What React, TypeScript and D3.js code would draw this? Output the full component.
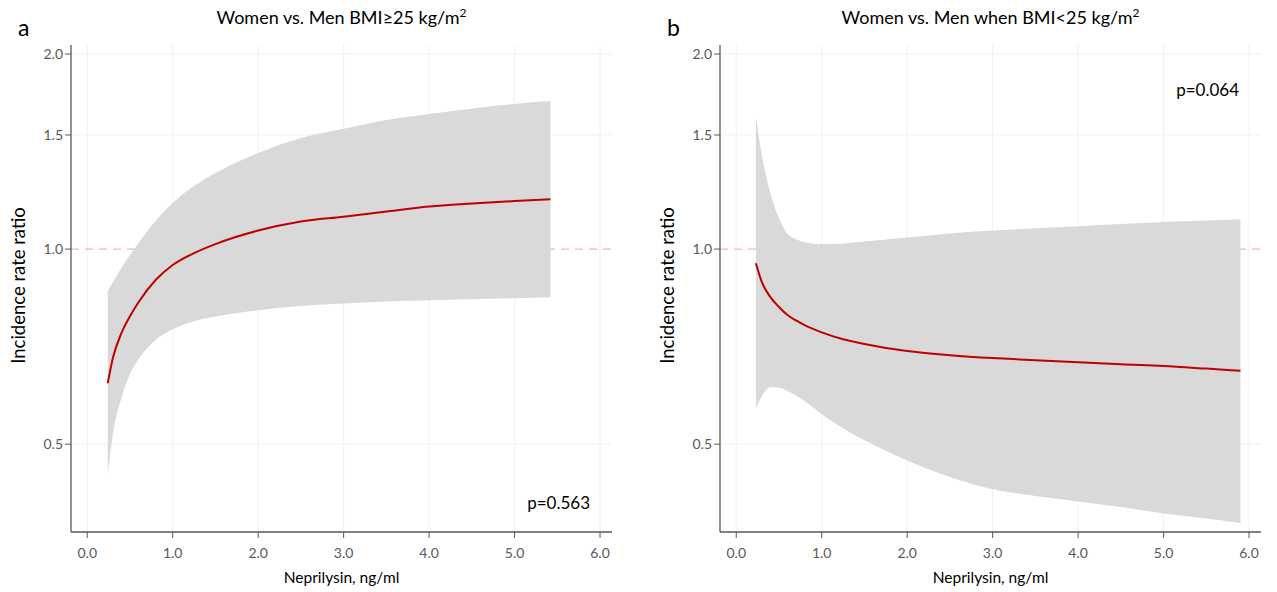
import React from "react";
import * as d3 from "d3";

// Panel a: Women vs. Men BMI>=25
const xA = [0.24, 0.3, 0.4, 0.5, 0.6, 0.8, 1.0, 1.25, 1.5, 2.0, 2.5, 3.0, 3.5, 4.0, 4.5, 5.0, 5.42];
const estA = [0.621, 0.679, 0.742, 0.788, 0.828, 0.896, 0.945, 0.986, 1.018, 1.068, 1.103, 1.122, 1.143, 1.163, 1.176, 1.186, 1.194];
const upA = [0.861, 0.889, 0.935, 0.979, 1.022, 1.106, 1.178, 1.251, 1.31, 1.407, 1.484, 1.534, 1.582, 1.616, 1.647, 1.675, 1.692];
const loA = [0.448, 0.518, 0.589, 0.641, 0.676, 0.724, 0.752, 0.774, 0.787, 0.805, 0.817, 0.824, 0.83, 0.834, 0.837, 0.84, 0.843];

// Panel b: Women vs. Men when BMI<25
const xB = [0.23, 0.3, 0.4, 0.5, 0.6, 0.7, 0.8, 1.0, 1.25, 1.5, 2.0, 2.5, 3.0, 3.5, 4.0, 4.5, 5.0, 5.5, 5.9];
const estB = [0.951, 0.889, 0.843, 0.814, 0.791, 0.776, 0.763, 0.744, 0.726, 0.714, 0.696, 0.686, 0.679, 0.674, 0.669, 0.664, 0.66, 0.654, 0.649];
const upB = [1.599, 1.397, 1.22, 1.116, 1.055, 1.036, 1.025, 1.018, 1.02, 1.027, 1.042, 1.057, 1.068, 1.077, 1.085, 1.093, 1.101, 1.107, 1.112];
const loB = [0.568, 0.593, 0.612, 0.611, 0.604, 0.594, 0.583, 0.556, 0.529, 0.507, 0.472, 0.445, 0.426, 0.416, 0.408, 0.4, 0.391, 0.384, 0.378];

const xTicks = [0, 1, 2, 3, 4, 5, 6];
const yTicks = [0.5, 1.0, 1.5, 2.0];
const titles = ["Women vs. Men BMI\u226525 kg/m", "Women vs. Men when BMI<25 kg/m"];
const titleSup = "2";
const labels = ["a", "b"];
const pValues = ["p=0.563", "p=0.064"];

const FONT = "Lato, 'Open Sans', sans-serif";

function Panel(props: {
  left: number;
  xs: number[];
  est: number[];
  up: number[];
  lo: number[];
  title: string;
  label: string;
  p: string;
  pPos: "bottom" | "top";
}) {
  const { left, xs, est, up, lo, title, label, p, pPos } = props;
  const top = 45;
  const bottom = 532;
  const width = 541;
  const right = left + width;
  const x = d3.scaleLinear().domain([-0.19, 6.14]).range([left, right]);
  const y = d3.scaleLog().domain([0.366, 2.065]).range([bottom, top]);
  const idx = xs.map((_, i) => i);
  const area = d3
    .area<number>()
    .x((i) => x(xs[i]))
    .y0((i) => y(lo[i]))
    .y1((i) => y(up[i]))
    .curve(d3.curveMonotoneX);
  const line = d3
    .line<number>()
    .x((i) => x(xs[i]))
    .y((i) => y(est[i]))
    .curve(d3.curveMonotoneX);
  const cx = (left + right) / 2;
  return (
    <g fontFamily={FONT}>
      {xTicks.map((t) => (
        <line key={"gx" + t} x1={x(t)} x2={x(t)} y1={top} y2={bottom} stroke="#f0f0f0" strokeWidth={1} />
      ))}
      {yTicks
        .filter((t) => t !== 1)
        .map((t) => (
          <line key={"gy" + t} x1={left} x2={right} y1={y(t)} y2={y(t)} stroke="#f0f0f0" strokeWidth={1} />
        ))}
      <line x1={left} x2={right} y1={y(1)} y2={y(1)} stroke="#f2a0a0" strokeWidth={1} strokeDasharray="8,6" />
      <path d={area(idx) || ""} fill="#d9d9d9" stroke="none" />
      <path d={line(idx) || ""} fill="none" stroke="#c00000" strokeWidth={2} />
      <line x1={left} x2={left} y1={top} y2={bottom} stroke="#595959" strokeWidth={1.3} />
      <line x1={left} x2={right} y1={bottom} y2={bottom} stroke="#595959" strokeWidth={1.3} />
      {yTicks.map((t) => (
        <g key={"ty" + t}>
          <line x1={left - 6} x2={left} y1={y(t)} y2={y(t)} stroke="#595959" strokeWidth={1} />
          <text x={left - 8} y={y(t)} dy="0.35em" textAnchor="end" fontSize={14} fill="#595959">
            {t.toFixed(1)}
          </text>
        </g>
      ))}
      {xTicks.map((t) => (
        <g key={"tx" + t}>
          <line x1={x(t)} x2={x(t)} y1={bottom} y2={bottom + 6} stroke="#595959" strokeWidth={1} />
          <text x={x(t)} y={bottom + 21} dy="0.35em" textAnchor="middle" fontSize={14} fill="#595959">
            {t.toFixed(1)}
          </text>
        </g>
      ))}
      <text x={cx} y={583} textAnchor="middle" fontSize={15.5} fill="#000">
        Neprilysin, ng/ml
      </text>
      <text
        transform={`translate(${left - 52},${(top + bottom) / 2 - 3}) rotate(-90)`}
        textAnchor="middle"
        dy="0.35em"
        fontSize={18.5}
        fill="#000"
      >
        Incidence rate ratio
      </text>
      <text x={cx} y={24} textAnchor="middle" fontSize={18} fill="#000">
        {title}
        <tspan fontSize={12} dy={-7}>
          {titleSup}
        </tspan>
      </text>
      <text x={left - 53} y={36} fontSize={23} fill="#000">
        {label}
      </text>
      <text x={right - 22} y={pPos === "bottom" ? 509 : 96} textAnchor="end" fontSize={17} fill="#000">
        {p}
      </text>
    </g>
  );
}

export default function App() {
  return (
    <svg
      width={1277}
      height={592}
      style={{ position: "absolute", left: 0, top: 0, display: "block", background: "#fff" }}
    >
      <Panel left={71} xs={xA} est={estA} up={upA} lo={loA} title={titles[0]} label={labels[0]} p={pValues[0]} pPos="bottom" />
      <Panel left={720} xs={xB} est={estB} up={upB} lo={loB} title={titles[1]} label={labels[1]} p={pValues[1]} pPos="top" />
    </svg>
  );
}
